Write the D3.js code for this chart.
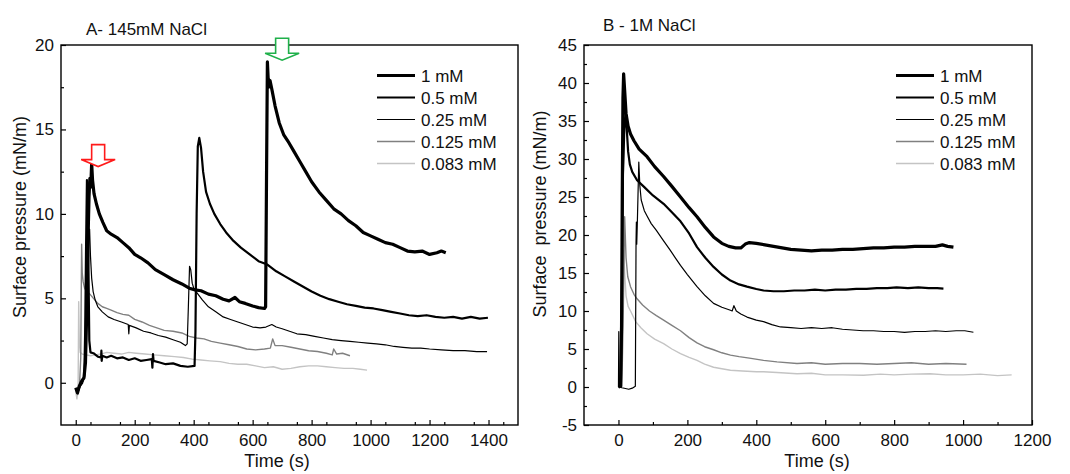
<!DOCTYPE html>
<html>
<head>
<meta charset="utf-8">
<script src="https://cdn.jsdelivr.net/npm/d3@7"></script>
<style>
  body { margin: 0; background: #fff; }
  svg text { font-family: "Liberation Sans", Arial, sans-serif; fill: #111; }
</style>
</head>
<body>
<div id="chart"></div>
<script>
// ---- data: [time (s), surface pressure (mN/m)] ----
const legendLabels = ["1 mM", "0.5 mM", "0.25 mM", "0.125 mM", "0.083 mM"];

const A_1mM = [[0,-0.3],[6,-0.6],[12,-0.2],[20,0.1],[28,0.3],[33,1.2],[37,4],[41,8],[45,11],[48,12.1],[51,11.6],[54,13.0],[57,12.0],[62,11.2],[70,10.6],[80,10.0],[92,9.5],[105,9.0],[120,8.8],[140,8.6],[160,8.3],[180,8.0],[200,7.6],[220,7.4],[245,7.1],[270,6.7],[300,6.4],[330,6.1],[360,5.85],[385,5.6],[405,5.5],[425,5.45],[450,5.25],[475,5.15],[500,4.95],[520,4.85],[540,5.05],[555,4.8],[575,4.7],[600,4.55],[620,4.45],[640,4.4],[644,4.5],[647,12],[650,19.0],[654,17.5],[659,17.9],[666,17.3],[676,16.4],[690,15.4],[705,14.7],[720,14.3],[740,13.7],[760,13.1],[780,12.5],[800,11.9],[825,11.3],[850,10.8],[875,10.3],[900,10.0],[925,9.6],[950,9.3],[975,8.9],[1000,8.7],[1025,8.5],[1050,8.3],[1075,8.2],[1100,8.0],[1125,7.8],[1150,7.75],[1175,7.8],[1200,7.6],[1225,7.7],[1240,7.8],[1255,7.7]];
const A_05mM = [[0,-0.4],[7,-0.5],[14,-0.2],[22,0],[29,0.4],[32,3],[35,8],[38,12.0],[41,11.8],[43,7],[46,2.5],[50,1.8],[60,1.75],[75,1.55],[86,1.5],[87,1.9],[88,1.3],[90,1.6],[105,1.5],[120,1.6],[140,1.45],[160,1.5],[180,1.35],[200,1.45],[220,1.3],[240,1.35],[258,1.4],[260,0.9],[262,1.7],[264,1.3],[285,1.2],[305,1.1],[330,1.15],[355,1.0],[380,0.95],[403,1.0],[406,3],[410,10],[414,14.0],[419,14.5],[425,13.9],[432,12.5],[442,11.3],[455,10.6],[470,10.0],[490,9.4],[510,8.9],[535,8.4],[560,8.0],[590,7.6],[620,7.2],[650,7.0],[680,6.6],[710,6.3],[740,6.0],[770,5.7],[800,5.4],[830,5.15],[860,4.95],[890,4.8],[920,4.65],[950,4.55],[980,4.45],[1010,4.4],[1040,4.3],[1070,4.2],[1100,4.1],[1130,4.0],[1160,3.95],[1190,4.0],[1220,3.9],[1250,3.85],[1280,3.9],[1310,3.8],[1340,3.9],[1370,3.8],[1398,3.85]];
const A_025mM = [[0,-0.3],[8,-0.5],[16,-0.1],[24,0.1],[30,0.5],[35,2.5],[40,6],[44,8.5],[47,9.1],[50,7.5],[54,6.2],[59,5.4],[66,4.9],[75,4.5],[90,4.2],[110,3.9],[130,3.75],[155,3.6],[178,3.45],[180,2.9],[182,3.4],[205,3.25],[230,3.05],[255,2.95],[280,2.8],[305,2.7],[330,2.55],[355,2.4],[372,2.2],[378,2.3],[382,4.5],[386,6.9],[390,6.7],[395,5.9],[402,5.5],[410,5.35],[430,4.9],[450,4.5],[475,4.2],[500,3.9],[525,3.75],[550,3.6],[575,3.45],[600,3.3],[625,3.25],[645,3.3],[665,3.45],[680,3.3],[700,3.2],[725,3.05],[750,2.9],[780,2.85],[810,2.75],[840,2.65],[870,2.55],[900,2.5],[930,2.45],[960,2.4],[990,2.35],[1020,2.3],[1050,2.25],[1080,2.15],[1110,2.1],[1140,2.05],[1170,2.05],[1200,2.0],[1240,1.95],[1280,1.9],[1320,1.9],[1360,1.85],[1395,1.85]];
const A_0125mM = [[0,-0.4],[7,-0.7],[13,-0.1],[17,1.5],[20,8.2],[22,6.5],[25,6.0],[30,5.6],[38,5.35],[48,5.25],[60,5.0],[75,4.7],[90,4.5],[105,4.4],[120,4.3],[140,4.15],[160,4.05],[180,4.0],[200,3.75],[225,3.6],[250,3.4],[275,3.25],[300,3.1],[330,3.05],[360,2.95],[385,2.75],[410,2.65],[435,2.6],[460,2.45],[490,2.35],[520,2.25],[550,2.15],[580,2.0],[610,1.95],[640,2.0],[660,2.05],[668,2.6],[676,2.2],[700,2.2],[730,2.1],[760,2.0],[790,1.9],[820,1.85],[850,1.75],[870,1.65],[875,2.0],[885,1.7],[905,1.75],[930,1.6]];
const A_0083mM = [[0,-0.5],[4,-0.95],[8,-0.3],[10,4.8],[12,2.5],[15,1.8],[22,1.7],[35,1.65],[50,1.6],[65,1.65],[85,1.7],[105,1.8],[130,1.75],[155,1.7],[180,1.8],[205,1.75],[235,1.7],[265,1.65],[300,1.6],[335,1.55],[365,1.5],[395,1.4],[425,1.35],[455,1.3],[490,1.25],[520,1.15],[550,1.1],[580,1.1],[610,1.0],[640,0.9],[670,0.95],[700,0.8],[730,0.85],[760,0.95],[790,1.0],[820,1.0],[850,0.95],[880,0.9],[910,0.85],[940,0.85],[965,0.8],[988,0.75]];

const B_1mM = [[0,0],[6,0.1],[9,8],[11,25],[13,38],[15,41.2],[18,39],[22,36],[28,34.3],[35,33.3],[45,32.4],[60,31.3],[83,30.3],[105,29.0],[131,27.7],[155,26.4],[180,25.0],[205,23.6],[228,22.4],[252,21.0],[276,19.75],[300,18.9],[320,18.5],[340,18.3],[355,18.3],[368,18.8],[380,19.0],[400,18.9],[425,18.7],[450,18.5],[475,18.3],[500,18.1],[530,18.0],[560,17.9],[590,18.0],[620,18.0],[650,18.1],[680,18.1],[710,18.2],[740,18.3],[770,18.3],[800,18.4],[830,18.4],[860,18.5],[890,18.5],[920,18.5],[940,18.7],[955,18.5],[972,18.4]];
const B_05mM = [[0,0],[7,0.1],[10,12],[13,28],[17,34],[21,36.4],[24,34],[28,31],[33,29.3],[40,28.3],[54,27.2],[75,26.3],[100,25.2],[131,24.1],[155,23.0],[180,21.8],[205,20.2],[228,18.4],[252,17.0],[276,15.8],[300,14.8],[325,14.0],[350,13.5],[373,13.2],[400,12.9],[421,12.7],[450,12.6],[480,12.6],[510,12.7],[540,12.7],[570,12.8],[600,12.7],[630,12.8],[660,12.8],[690,12.9],[720,12.9],[750,13.0],[780,13.0],[807,13.1],[840,13.0],[870,13.1],[900,13.0],[925,13.0],[943,12.95]];
const B_025mM = [[0,0],[1,7.3],[2,0],[10,-0.1],[20,-0.2],[30,-0.3],[40,-0.15],[49,0.1],[51,19],[52,21.7],[53,18.8],[55,22],[59,29.6],[62,26.5],[66,24.6],[75,23.2],[83,22.5],[95,21.5],[110,20.6],[130,19.3],[150,18.0],[165,17.0],[180,16.0],[200,14.8],[228,13.2],[252,12.0],[276,11.0],[300,10.5],[325,10.1],[330,10.0],[335,10.7],[342,10.0],[355,9.6],[373,9.2],[400,8.8],[421,8.6],[445,8.2],[470,7.9],[500,7.8],[530,7.7],[560,7.8],[590,7.7],[620,7.8],[650,7.6],[680,7.5],[710,7.4],[740,7.4],[770,7.3],[800,7.3],[830,7.2],[860,7.3],[890,7.3],[920,7.4],[950,7.3],[980,7.4],[1005,7.4],[1030,7.2]];
const B_0125mM = [[0,0],[10,0.1],[14,10],[18,22.4],[22,17],[27,14.5],[35,13.2],[45,12.2],[54,11.6],[70,10.8],[90,10.0],[110,9.4],[131,8.8],[155,8.1],[180,7.4],[205,6.5],[228,5.8],[250,5.3],[276,4.9],[300,4.5],[325,4.2],[350,4.0],[380,3.8],[421,3.5],[460,3.3],[518,3.1],[560,3.2],[600,3.0],[650,3.1],[700,3.1],[750,3.0],[800,3.1],[850,3.2],[900,3.0],[950,3.1],[1010,3.0]];
const B_0083mM = [[0,0],[8,0.1],[12,10],[15,18],[18,15],[22,12],[28,10.6],[35,10.0],[50,8.6],[65,7.8],[83,7.0],[105,6.3],[131,5.7],[155,5.0],[180,4.4],[205,3.9],[228,3.5],[250,3.0],[276,2.6],[300,2.4],[325,2.2],[360,2.1],[400,2.0],[421,2.0],[460,1.9],[518,1.75],[560,1.8],[600,1.6],[650,1.6],[711,1.55],[760,1.7],[800,1.6],[850,1.7],[904,1.75],[950,1.6],[1000,1.6],[1050,1.7],[1100,1.5],[1141,1.6]];

const xTicksA = [0, 200, 400, 600, 800, 1000, 1200, 1400];
const yTicksA = [0, 5, 10, 15, 20];
const xTicksB = [0, 200, 400, 600, 800, 1000, 1200];
const yTicksB = [-5, 0, 5, 10, 15, 20, 25, 30, 35, 40, 45];

// arrows in panel A: [time, pressure at arrow tip]
const arrowRed = [76, 12.8];
const arrowGreen = [700, 19.1];

// ---- styles ----
const lineWidths = [3.2, 2.2, 1.2, 1.4, 1.4];
const lineColors = ["#000", "#000", "#000", "#808080", "#c4c4c4"];

const w = 1070, h = 474;
const svg = d3.select("#chart").append("svg")
    .attr("width", w)
    .attr("height", h);

function drawPanel(cfg) {
    const x = d3.scaleLinear().domain(cfg.xDomain).range([cfg.left, cfg.right]);
    const y = d3.scaleLinear().domain(cfg.yDomain).range([cfg.bottom, cfg.top]);
    const g = svg.append("g");

    g.append("clipPath").attr("id", cfg.id + "clip")
        .append("rect")
        .attr("x", cfg.left).attr("y", cfg.top)
        .attr("width", cfg.right - cfg.left).attr("height", cfg.bottom - cfg.top);

    const line = d3.line().x(d => x(d[0])).y(d => y(d[1]));

    // draw lightest first so the thick black curves sit on top
    const curves = g.append("g").attr("clip-path", `url(#${cfg.id}clip)`);
    for (let i = cfg.series.length - 1; i >= 0; i--) {
        curves.append("path")
            .datum(cfg.series[i])
            .attr("d", line)
            .attr("fill", "none")
            .attr("stroke", lineColors[i])
            .attr("stroke-width", lineWidths[i])
            .attr("stroke-linejoin", "round");
    }

    // axes, ticks pointing inward
    const xMinor = d3.range(cfg.xDomain[0] + 100, cfg.xDomain[1], 100).filter(v => !cfg.xTicks.includes(v));
    const yMinor = d3.range(cfg.yDomain[0], cfg.yDomain[1], 2.5).filter(v => !cfg.yTicks.includes(v) && v > cfg.yDomain[0]);

    const xAxis = g.append("g")
        .attr("transform", `translate(0,${cfg.bottom})`)
        .call(d3.axisBottom(x).tickValues(cfg.xTicks).tickSize(-5).tickPadding(9).tickFormat(d => String(d)));
    g.append("g")
        .attr("transform", `translate(0,${cfg.bottom})`)
        .call(d3.axisBottom(x).tickValues(xMinor).tickSize(-3).tickFormat(""))
        .select(".domain").remove();

    const yAxis = g.append("g")
        .attr("transform", `translate(${cfg.left},0)`)
        .call(d3.axisLeft(y).tickValues(cfg.yTicks).tickSize(-5).tickPadding(7).tickFormat(d => String(d)));
    g.append("g")
        .attr("transform", `translate(${cfg.left},0)`)
        .call(d3.axisLeft(y).tickValues(yMinor).tickSize(-3).tickFormat(""))
        .select(".domain").remove();

    g.selectAll(".tick line").attr("stroke", "#000").attr("stroke-width", 1.2);
    g.selectAll(".domain").remove();
    [xAxis, yAxis].forEach(a => a.selectAll("text")
        .attr("font-size", 17)
        .attr("fill", "#111")
        .style("font-family", '"Liberation Sans", Arial, sans-serif'));

    // frame
    g.append("rect")
        .attr("x", cfg.left).attr("y", cfg.top)
        .attr("width", cfg.right - cfg.left).attr("height", cfg.bottom - cfg.top)
        .attr("fill", "none").attr("stroke", "#000").attr("stroke-width", 1.4);

    // legend
    legendLabels.forEach((lab, i) => {
        const ly = cfg.legendY + i * 22;
        g.append("line")
            .attr("x1", cfg.legendX).attr("x2", cfg.legendX + 38)
            .attr("y1", ly).attr("y2", ly)
            .attr("stroke", lineColors[i])
            .attr("stroke-width", lineWidths[i]);
        g.append("text")
            .attr("x", cfg.legendX + 44).attr("y", ly)
            .attr("dy", "0.36em")
            .attr("font-size", 17)
            .text(lab);
    });

    g.append("text")
        .attr("x", cfg.titleX).attr("y", cfg.titleY)
        .attr("font-size", 17)
        .text(cfg.title);

    g.append("text")
        .attr("x", cfg.xLabelX).attr("y", 467)
        .attr("text-anchor", "middle")
        .attr("font-size", 18)
        .text("Time (s)");

    g.append("text")
        .attr("transform", `translate(${cfg.yLabelX},${cfg.yLabelY}) rotate(-90)`)
        .attr("text-anchor", "middle")
        .attr("font-size", 18)
        .style("white-space", "pre")
        .text(cfg.yLabel);

    return {x, y, g};
}

const panelA = drawPanel({
    id: "a", left: 61, right: 518, top: 45, bottom: 425,
    xDomain: [-50, 1500], yDomain: [-2.5, 20],
    xTicks: xTicksA, yTicks: yTicksA,
    series: [A_1mM, A_05mM, A_025mM, A_0125mM, A_0083mM],
    legendX: 377, legendY: 75.5,
    title: "A- 145mM NaCl", titleX: 86, titleY: 34.5,
    xLabelX: 277, yLabelX: 26, yLabelY: 217,
    yLabel: "Surface pressure (mN/m)"
});

drawPanel({
    id: "b", left: 584, right: 1032, top: 45, bottom: 425,
    xDomain: [-100, 1200], yDomain: [-5, 45],
    xTicks: xTicksB, yTicks: yTicksB,
    series: [B_1mM, B_05mM, B_025mM, B_0125mM, B_0083mM],
    legendX: 896, legendY: 75.5,
    title: "B - 1M NaCl", titleX: 603, titleY: 31,
    xLabelX: 817, yLabelX: 546, yLabelY: 214,
    yLabel: "Surface  pressure (mN/m)"
});

// hollow down arrows marking the peaks in panel A
function arrow(pt, color) {
    const tx = panelA.x(pt[0]), ty = panelA.y(pt[1]);
    const p = d3.path();
    p.moveTo(tx - 6.5, ty - 22);
    p.lineTo(tx + 6.5, ty - 22);
    p.lineTo(tx + 6.5, ty - 7);
    p.lineTo(tx + 17, ty - 7);
    p.lineTo(tx, ty);
    p.lineTo(tx - 17, ty - 7);
    p.lineTo(tx - 6.5, ty - 7);
    p.closePath();
    svg.append("path")
        .attr("d", p.toString())
        .attr("fill", "#fff")
        .attr("stroke", color)
        .attr("stroke-width", 1.6);
}
arrow(arrowRed, "#ff1a1a");
arrow(arrowGreen, "#1fb04a");
</script>
</body>
</html>
